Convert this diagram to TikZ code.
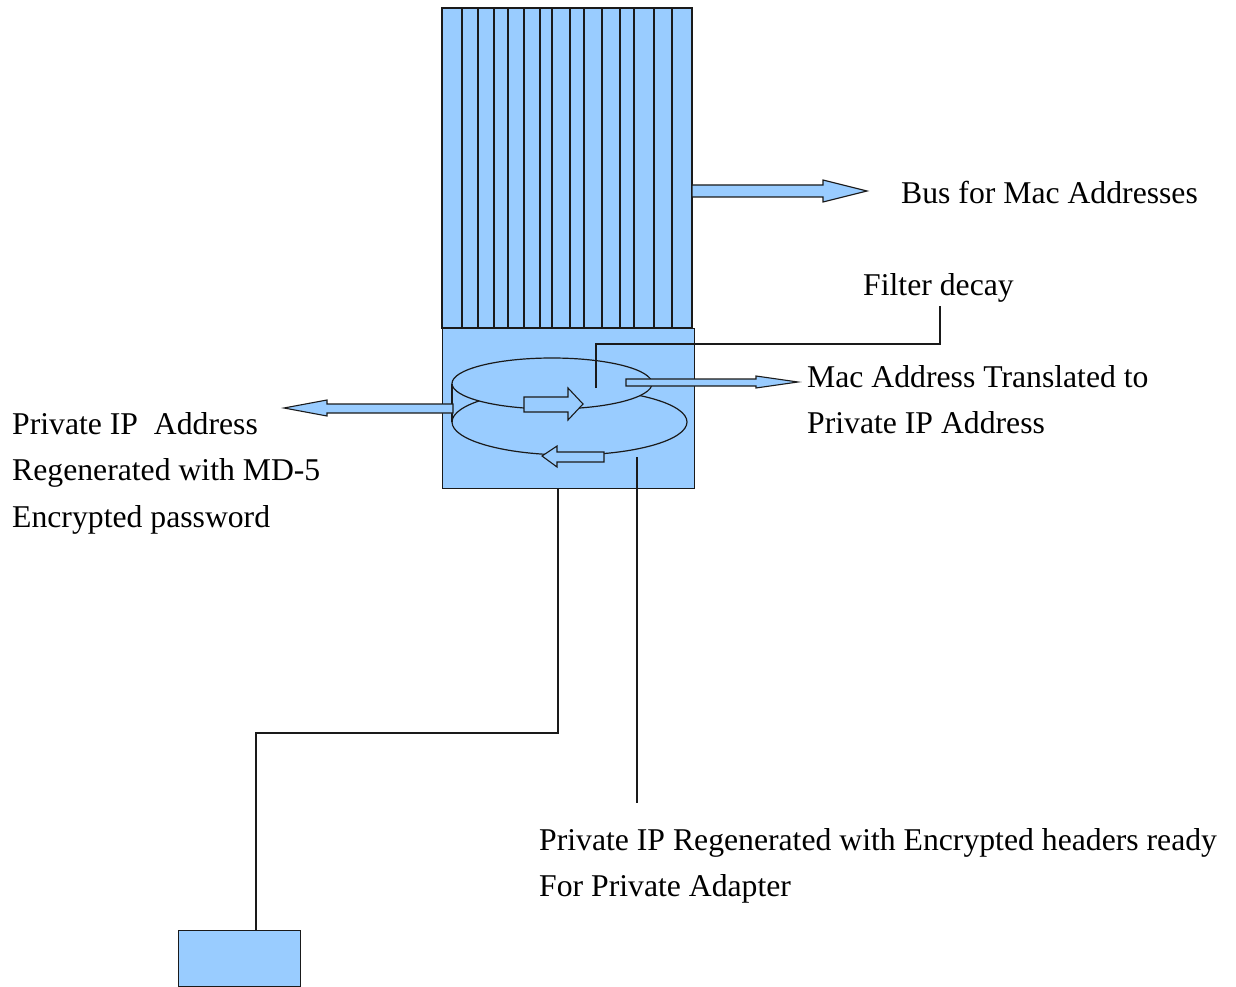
\documentclass[tikz,border=0pt]{standalone}
\usepackage{fontspec}
\setmainfont{Liberation Serif}
\definecolor{panel}{HTML}{99CCFF}
\definecolor{edge}{HTML}{1A1A1A}
\tikzset{
  body/.style={fill=panel, draw=edge, line width=1.2pt},
  blockarrow/.style={fill=panel, draw=edge, line width=1.1pt, line join=miter},
  leader/.style={draw=edge, line width=1.1pt},
  caption/.style={anchor=base west, inner sep=0pt, font=\fontsize{31.7}{46.7}\selectfont, align=left}
}
\begin{document}
\begin{tikzpicture}[x=1pt, y=-1pt]
\useasboundingbox (0,0) rectangle (1236,987);

% striped bus column
\draw[body] (442,8) rectangle (692,328);
\foreach \sx in {462,478,494,508,524,540,552,570,584,602,620,634,654,672}
  \draw[leader] (\sx,8) -- (\sx,328);

% filter housing
\node[body, draw, minimum width=252pt, minimum height=160pt, inner sep=0pt, anchor=north west] (housing) at (442,328) {};

% two stacked filter rings
\draw[body] (569.5,422) ellipse [x radius=117.5, y radius=33];
\draw[body] (552,383.5) ellipse [x radius=100, y radius=25.5];
\draw[leader] (452,383.5) -- (452,422);

% circulation arrows inside the rings
\draw[blockarrow] (524,397) -- (568,397) -- (568,388) -- (583,404) -- (568,420) -- (568,412) -- (524,412) -- cycle;
\draw[blockarrow] (604,452) -- (557,452) -- (557,446) -- (542,456) -- (557,467) -- (557,462) -- (604,462) -- cycle;

% outgoing block arrows
\draw[blockarrow] (692,185) -- (823,185) -- (823,180) -- (867,191) -- (823,202) -- (823,197) -- (692,197) -- cycle;
\draw[blockarrow] (626,379) -- (756,379) -- (756,376) -- (798,382) -- (756,388) -- (756,386) -- (626,386) -- cycle;
\draw[blockarrow] (453,404) -- (327,404) -- (327,400) -- (284,408) -- (327,416) -- (327,413) -- (453,413) -- cycle;

% labels (base anchor of a multi-line label sits on its last line)
\node[caption] (bus) at (901,204) {Bus for Mac Addresses};
\node[caption] (filter) at (863,295) {Filter decay};
\node[caption] (mac) at (807,433.7) {Mac Address Translated to\\Private IP Address};
\node[caption] (privleft) at (12,527.4) {Private IP\ \ Address\\Regenerated with MD-5\\Encrypted password};
\node[caption] (privbottom) at (539,896.7) {Private IP Regenerated with Encrypted headers ready\\For Private Adapter};

% adapter block
\node[body, draw, minimum width=122pt, minimum height=56pt, inner sep=0pt, anchor=north west] (adapter) at (178,930) {};

% leader lines
\coordinate (fdIn) at (596,388);
\coordinate (fdTop) at (940,306);
\draw[leader] (fdIn) |- (940,344) -- (fdTop);

\coordinate (hOut) at (558,488);
\coordinate (aIn) at (256,930);
\draw[leader] (hOut) -- (558,733) -| (aIn);

\coordinate (rIn) at (637,457);
\coordinate (rOut) at (637,803);
\draw[leader] (rIn) -- (rOut);
\end{tikzpicture}
\end{document}
